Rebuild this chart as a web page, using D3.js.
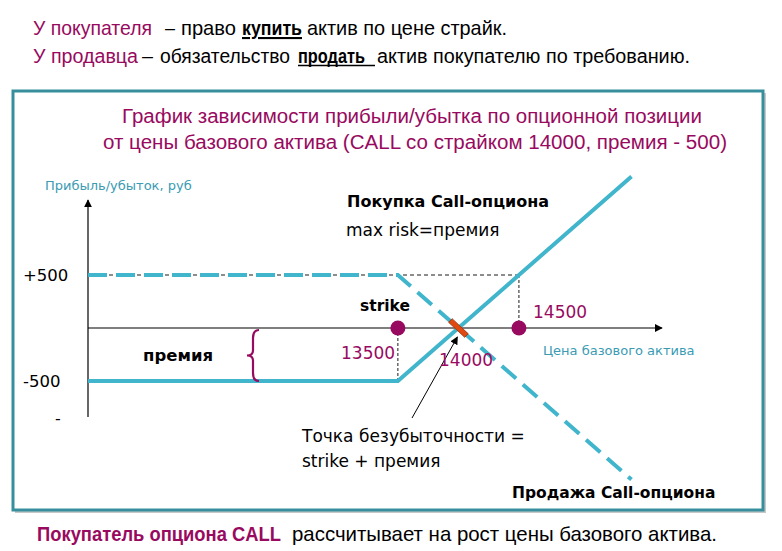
<!DOCTYPE html>
<html>
<head>
<meta charset="utf-8">
<script src="https://cdn.jsdelivr.net/npm/d3@7"></script>
<style>
  body { margin: 0; background: #fff; }
  svg { display: block; }
  text { white-space: pre; }
</style>
</head>
<body>
<div id="chart"></div>
<script>
// data: option payoff, CALL strike 14000, premium 500
const prices = [10940, 13500, 14000, 14500, 15430];
const buyPL  = [-500, -500, 0, 500, 1430];
const sellPL = [500, 500, 0, -500, -1430];
const strike = 13500;      // point labelled "strike" on the picture
const breakEven = 14000;
const markPrice = 14500;
const yTicks = [500, -500];
const yTickLabels = ["+500", "-500"];

const W = 782, H = 551;
const teal = "#40b5cc", magenta = "#980a60", frame = "#378e9c";
const narrow = "'Liberation Sans', Arial, sans-serif";
const body = "'DejaVu Sans', Verdana, sans-serif";

const svg = d3.select("#chart").append("svg")
    .attr("width", W).attr("height", H);

// narrow-looking text pieces: [text, x0, x1, colour, bold, underline]
function piece(ty, size, p) {
    svg.append("text").attr("x", p[1]).attr("y", ty)
        .attr("textLength", p[2] - p[1]).attr("lengthAdjust", "spacingAndGlyphs")
        .attr("fill", p[3] || "#000").attr("font-weight", p[4] ? "bold" : "normal")
        .attr("text-decoration", p[5] ? "underline" : null)
        .style("font-family", narrow).style("font-size", size + "px")
        .text(p[0]);
}
[["У покупателя", 33, 152, magenta],
 ["–", 165, 175],
 ["право", 181, 236],
 ["купить", 242, 302, "#000", true, true],
 ["актив по цене страйк.", 307, 507]].forEach(p => piece(35, 21, p));
[["У продавца", 33, 138, magenta],
 ["–", 142, 153],
 ["обязательство", 160, 290],
 ["продать", 298, 365, "#000", true],
 ["актив покупателю по требованию.", 377, 690]].forEach(p => piece(63, 19.5, p));
// underline of "продать " runs on past the word
svg.append("line").attr("x1", 298).attr("x2", 375).attr("y1", 65.5).attr("y2", 65.5)
    .attr("stroke", "#000").attr("stroke-width", 1.5);

// frame
svg.append("rect").attr("x", 15).attr("y", 93).attr("width", 751).attr("height", 420)
    .attr("fill", "#c8c8c8");
svg.append("rect").attr("x", 13).attr("y", 91).attr("width", 750).attr("height", 419)
    .attr("fill", "#fff").attr("stroke", frame).attr("stroke-width", 3);

piece(123, 20, ["График зависимости прибыли/убытка по опционной позиции", 122, 702, magenta]);
piece(149, 20, ["от цены базового актива (CALL со страйком 14000, премия - 500)", 103, 727, magenta]);

// footer
piece(541, 21, ["Покупатель опциона CALL", 37, 281, magenta, true]);
piece(541, 21, ["рассчитывает на рост цены базового актива.", 292, 717]);

// scales
const x = d3.scaleLinear().domain([10940, 15430]).range([88, 631.5]);
const y = d3.scaleLinear().domain([-500, 500]).range([381, 275]);

const defs = svg.append("defs");
defs.append("marker").attr("id", "arr").attr("viewBox", "0 0 10 10")
    .attr("refX", 9).attr("refY", 5).attr("markerWidth", 8).attr("markerHeight", 8)
    .attr("markerUnits", "userSpaceOnUse").attr("orient", "auto")
    .append("path").attr("d", "M0,0 L10,5 L0,10 Z").attr("fill", "#000");

// axes
svg.append("line").attr("x1", x(10940)).attr("y1", 417).attr("x2", x(10940)).attr("y2", 200)
    .attr("stroke", "#000").attr("stroke-width", 1.2).attr("marker-end", "url(#arr)");
svg.append("line").attr("x1", x(10940)).attr("y1", y(0)).attr("x2", 662).attr("y2", y(0))
    .attr("stroke", "#000").attr("stroke-width", 1.2).attr("marker-end", "url(#arr)");

svg.selectAll(".ytl").data(yTicks).enter().append("text")
    .attr("x", 23).attr("y", d => y(d) + 6)
    .style("font-family", body).style("font-size", "16.5px")
    .text((d, i) => yTickLabels[i]);
svg.append("text").attr("x", 55).attr("y", 424).style("font-family", body)
    .style("font-size", "16px").text("-");

svg.append("text").attr("x", 45).attr("y", 190).attr("fill", "#3a9bb3")
    .style("font-family", body).style("font-size", "13px").text("Прибыль/убыток, руб");
svg.append("text").attr("x", 543).attr("y", 355).attr("fill", "#3a9bb3")
    .style("font-family", body).style("font-size", "13px").text("Цена базового актива");

// reference dashed lines
svg.append("line").attr("x1", x(10940)).attr("x2", x(markPrice)).attr("y1", y(500)).attr("y2", y(500))
    .attr("stroke", "#000").attr("stroke-width", 0.9).attr("stroke-dasharray", "4,3");
svg.append("line").attr("x1", x(strike)).attr("x2", x(strike)).attr("y1", y(0)).attr("y2", y(-500))
    .attr("stroke", "#000").attr("stroke-width", 0.9).attr("stroke-dasharray", "3,2");
svg.append("line").attr("x1", x(markPrice)).attr("x2", x(markPrice)).attr("y1", y(500)).attr("y2", y(0))
    .attr("stroke", "#000").attr("stroke-width", 0.9).attr("stroke-dasharray", "3,2");

// payoff lines
const line = d3.line().x((d, i) => x(prices[i])).y(d => y(d));
svg.append("path").attr("d", line(sellPL)).attr("fill", "none")
    .attr("stroke", teal).attr("stroke-width", 4).attr("stroke-dasharray", "19,9");
svg.append("path").attr("d", line(buyPL)).attr("fill", "none")
    .attr("stroke", teal).attr("stroke-width", 4);

// break-even marker
svg.append("rect").attr("x", -11).attr("y", -2.5).attr("width", 22).attr("height", 5)
    .attr("fill", "#e04a10").attr("stroke", "#a03008").attr("stroke-width", 0.8)
    .attr("transform", `translate(${x(breakEven)},${y(0)}) rotate(43)`);

// strike dots
svg.selectAll(".dot").data([strike, markPrice]).enter().append("circle")
    .attr("cx", d => x(d)).attr("cy", y(0)).attr("r", 7.5).attr("fill", magenta);

// brace
const bx = 257, by0 = y(0) + 2, by1 = y(-500);
const bm = (by0 + by1) / 2;
svg.append("path")
    .attr("d", `M${bx + 2},${by0} Q${bx - 4},${by0} ${bx - 4},${by0 + 8} L${bx - 4},${bm - 5} Q${bx - 4},${bm} ${bx - 10},${bm} Q${bx - 4},${bm} ${bx - 4},${bm + 5} L${bx - 4},${by1 - 8} Q${bx - 4},${by1} ${bx + 2},${by1}`)
    .attr("fill", "none").attr("stroke", magenta).attr("stroke-width", 2.2);

// annotation arrow
svg.append("line").attr("x1", 412).attr("y1", 418).attr("x2", x(breakEven) - 1).attr("y2", y(0) + 9)
    .attr("stroke", "#000").attr("stroke-width", 1).attr("marker-end", "url(#arr)");

// labels
const lab = (tx, ty, s, opt = {}) => svg.append("text").attr("x", tx).attr("y", ty)
    .attr("fill", opt.fill || "#000").attr("font-weight", opt.bold ? "bold" : "normal")
    .style("font-family", body).style("font-size", (opt.size || 16) + "px").text(s);

lab(347, 207, "Покупка Call-опциона", { bold: true, size: 16 });
lab(346, 236, "max risk=премия", { size: 17 });
lab(360, 311, "strike", { bold: true, size: 15.5 });
lab(533, 318, "14500", { fill: magenta, size: 17 });
lab(341, 359, "13500", { fill: magenta, size: 17 });
lab(439, 366, "14000", { fill: magenta, size: 17 });
lab(143, 361, "премия", { bold: true, size: 16.5 });
lab(302, 442, "Точка безубыточности =", { size: 17 });
lab(302, 467, "strike + премия", { size: 17 });
lab(512, 498, "Продажа Call-опциона", { bold: true, size: 15.5 });
</script>
</body>
</html>
